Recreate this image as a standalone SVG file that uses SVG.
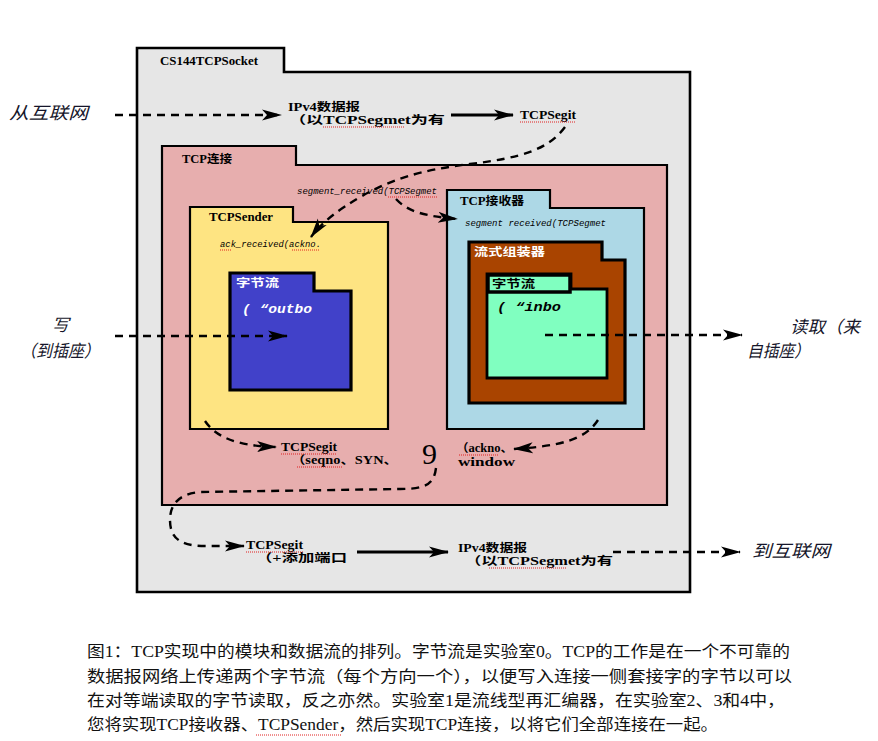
<svg xmlns="http://www.w3.org/2000/svg" width="878" height="741" viewBox="0 0 878 741">
<style>
.fold{stroke:#000;stroke-width:2.2;stroke-linejoin:miter}
.thick{stroke:#000;stroke-width:3.2}
.lbl{font-family:"Liberation Serif","Noto Sans CJK SC",serif;font-size:11.5px;font-weight:bold;fill:#000}
.it{font-family:"Liberation Mono","DejaVu Sans Mono",monospace;font-style:italic;font-size:9.5px;fill:#000}
.it2{font-family:"Liberation Mono","DejaVu Sans Mono",monospace;font-style:italic;font-size:12px;font-weight:bold}
.ext{font-family:"Noto Sans CJK SC",sans-serif;font-style:italic;font-size:17px;fill:#15152a}
.cap{font-family:"Liberation Serif","Noto Sans CJK SC",serif;font-size:16px;fill:#111}
.dash{fill:none;stroke:#000;stroke-width:2.4;stroke-dasharray:8 6}
.solid{fill:none;stroke:#000;stroke-width:3.2}
.sq{fill:none;stroke:#e02020;stroke-width:1;stroke-dasharray:1 1}
</style>
<defs>
<marker id="ah" markerWidth="20" markerHeight="14" refX="19" refY="7" orient="auto" markerUnits="userSpaceOnUse">
<path d="M0,1.5 L20,7 L0,12.5 L5,7 Z" fill="#000" stroke="none"/>
</marker>
</defs>
<rect width="878" height="741" fill="#fff"/>

<g id="socket">
<path class="fold" style="stroke-width:2.6" fill="#e6e6e6" d="M137,48 L284,48 L284,72 L690,72 L690,592 L137,592 Z"/>
<text class="lbl" x="160" y="65" textLength="98" lengthAdjust="spacingAndGlyphs">CS144TCPSocket</text>
</g>

<g id="tcpconn">
<path class="fold" fill="#e7aeae" d="M162,146 L296,146 L296,165 L667,165 L667,505 L162,505 Z"/>
<text class="lbl" x="182" y="163" textLength="50" lengthAdjust="spacingAndGlyphs">TCP连接</text>
</g>

<g id="sender">
<path class="fold" fill="#fee482" d="M190,207 L293,207 L293,222 L388,222 L388,429 L190,429 Z"/>
<text class="lbl" x="209" y="221" textLength="64" lengthAdjust="spacingAndGlyphs">TCPSender</text>
<text class="it" x="220" y="247" textLength="101" lengthAdjust="spacingAndGlyphs">ack_received(ackno.</text>
</g>

<g id="outbound">
<path class="thick" fill="#4141c9" d="M230,273 L314,273 L314,291 L351,291 L351,390 L230,390 Z"/>
<text class="lbl" x="236" y="287" style="fill:#fff" textLength="43" lengthAdjust="spacingAndGlyphs">字节流</text>
<text class="it2" x="242" y="313" style="fill:#fff" textLength="70" lengthAdjust="spacingAndGlyphs">( “outbo</text>
</g>

<g id="receiver">
<path class="fold" fill="#add8e6" d="M447,190 L550,190 L550,208 L644,208 L644,429 L447,429 Z"/>
<text class="lbl" x="460" y="205" textLength="64" lengthAdjust="spacingAndGlyphs">TCP接收器</text>
<text class="it" x="465" y="226" textLength="141" lengthAdjust="spacingAndGlyphs">segment received(TCPSegmet</text>
</g>

<g id="reassembler">
<path class="thick" fill="#a94400" d="M469,242 L602,242 L602,260 L625,260 L625,403 L469,403 Z"/>
<text class="lbl" x="474" y="256" style="fill:#fff" textLength="71" lengthAdjust="spacingAndGlyphs">流式组装器</text>
</g>

<g id="inbound">
<path class="fold" style="stroke-width:2.8" fill="#80ffc0" d="M487,274 L571,274 L571,289 L607,289 L607,378 L487,378 Z"/>
<rect x="488" y="275" width="82" height="17" fill="#80ffc0" stroke="#000" stroke-width="3.5"/>
<text class="lbl" x="492" y="288" textLength="43" lengthAdjust="spacingAndGlyphs">字节流</text>
<text class="it2" x="497" y="311" style="fill:#000" textLength="64" lengthAdjust="spacingAndGlyphs">( “inbo</text>
</g>

<g id="labels">
<text class="lbl" x="288" y="111" textLength="72" lengthAdjust="spacingAndGlyphs">IPv4数据报</text>
<text class="lbl" x="289" y="124" textLength="156" lengthAdjust="spacingAndGlyphs">（以TCPSegmet为有</text>
<text class="lbl" x="520" y="119" textLength="56" lengthAdjust="spacingAndGlyphs">TCPSegit</text>
<text class="it" x="297" y="194" textLength="140" lengthAdjust="spacingAndGlyphs">segment_received(TCPSegmet</text>
<text class="lbl" x="281" y="451" textLength="56" lengthAdjust="spacingAndGlyphs">TCPSegit</text>
<text class="lbl" x="291" y="464" textLength="107" lengthAdjust="spacingAndGlyphs">（seqno、SYN、</text>
<text x="422" y="464" font-family="Liberation Serif,serif" font-size="30" fill="#000">9</text>
<text class="lbl" x="456" y="452" textLength="57" lengthAdjust="spacingAndGlyphs">（ackno、</text>
<text class="lbl" x="458" y="466" textLength="57" lengthAdjust="spacingAndGlyphs">window</text>
<text class="lbl" x="246" y="549" textLength="57" lengthAdjust="spacingAndGlyphs">TCPSegit</text>
<text class="lbl" x="256" y="562" textLength="91" lengthAdjust="spacingAndGlyphs">（+添加端口</text>
<text class="lbl" x="458" y="552" textLength="69" lengthAdjust="spacingAndGlyphs">IPv4数据报</text>
<text class="lbl" x="465" y="565" textLength="148" lengthAdjust="spacingAndGlyphs">（以TCPSegmet为有</text>
</g>

<g id="squiggles">
<path class="sq" d="M323,127 H405 M520,122 H576 M388,197 H437 M220,250 H232 M292,250 H320 M281,454 H337 M297,467 H343 M459,455 H499 M246,552 H303 M489,568 H567 M256,735 H341"/>
</g>

<g id="external">
<text class="ext" x="9" y="119" font-size="19" textLength="79" lengthAdjust="spacingAndGlyphs">从互联网</text>
<text class="ext" x="52" y="331" font-size="16">写</text>
<text class="ext" x="20" y="357" font-size="16" textLength="80" lengthAdjust="spacingAndGlyphs">（到插座）</text>
<text class="ext" x="790" y="333" font-size="16" textLength="70" lengthAdjust="spacingAndGlyphs">读取（来</text>
<text class="ext" x="747" y="357" font-size="16" textLength="63" lengthAdjust="spacingAndGlyphs">自插座）</text>
<text class="ext" x="752" y="557" font-size="19" textLength="78" lengthAdjust="spacingAndGlyphs">到互联网</text>
</g>

<g id="connectors">
<path class="dash" d="M115,115 L281,115" marker-end="url(#ah)"/>
<path class="solid" d="M451,115 L513,115" marker-end="url(#ah)"/>
<path class="dash" d="M565,127 C548,150 520,158 470,164 C420,170 390,180 362,196 C338,210 322,222 311,237" marker-end="url(#ah)"/>
<path class="dash" d="M396,199 C408,212 425,216 457,219" marker-end="url(#ah)"/>
<path class="dash" d="M115,336 L287,336" marker-end="url(#ah)"/>
<path class="dash" d="M545,335 L742,335" marker-end="url(#ah)"/>
<path class="dash" d="M205,421 C215,436 235,446 276,447" marker-end="url(#ah)"/>
<path class="dash" d="M598,420 C585,440 560,446 514,449" marker-end="url(#ah)"/>
<path class="dash" d="M436,468 C434,484 426,489 400,489 L200,492 C178,494 170,505 170,520 C170,538 180,546 205,546 L244,546" marker-end="url(#ah)"/>
<path class="solid" d="M357,552 L448,552" marker-end="url(#ah)"/>
<path class="dash" d="M613,552 L740,552" marker-end="url(#ah)"/>
</g>

<g id="caption">
<text class="cap" x="87" y="657" textLength="703" lengthAdjust="spacingAndGlyphs">图1：TCP实现中的模块和数据流的排列。字节流是实验室0。TCP的工作是在一个不可靠的</text>
<text class="cap" x="87" y="682" textLength="705" lengthAdjust="spacingAndGlyphs">数据报网络上传递两个字节流（每个方向一个），以便写入连接一侧套接字的字节以可以</text>
<text class="cap" x="87" y="706" textLength="698" lengthAdjust="spacingAndGlyphs">在对等端读取的字节读取，反之亦然。实验室1是流线型再汇编器，在实验室2、3和4中，</text>
<text class="cap" x="87" y="730" textLength="631" lengthAdjust="spacingAndGlyphs">您将实现TCP接收器、TCPSender，然后实现TCP连接，以将它们全部连接在一起。</text>
</g>
</svg>
